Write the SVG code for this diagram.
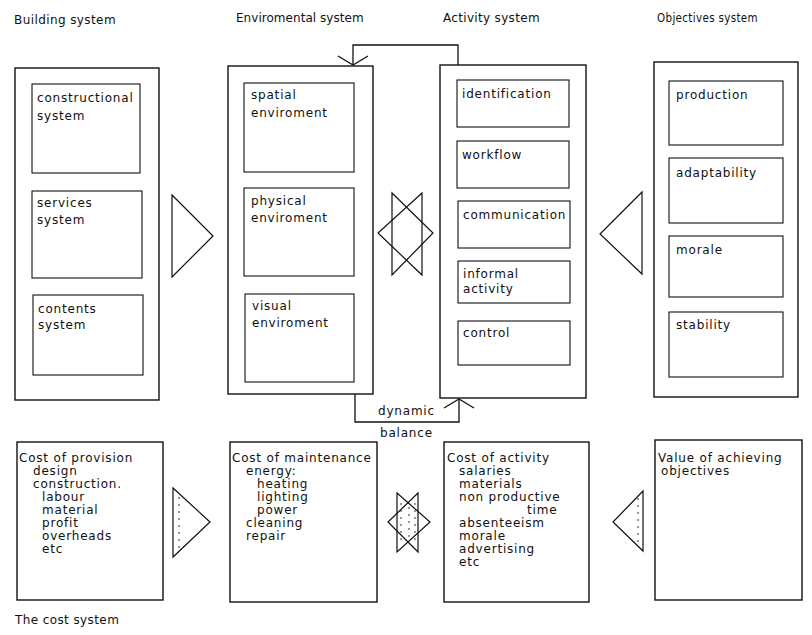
<svg xmlns="http://www.w3.org/2000/svg" width="812" height="635" viewBox="0 0 812 635">
<defs>
<style>
text{font-family:"DejaVu Sans","Liberation Sans",sans-serif;font-size:12px;fill:#111;letter-spacing:0.8px}
.title{letter-spacing:0.4px}
.outer{fill:none;stroke:#111;stroke-width:1.4}
.inner{fill:none;stroke:#111;stroke-width:1.1}
.tri{fill:none;stroke:#111;stroke-width:1.2;stroke-linejoin:miter}
.dots{fill:none;stroke:#333;stroke-width:1;stroke-dasharray:2 5}
.conn{fill:none;stroke:#111;stroke-width:1.3}
</style>
<marker id="openv" markerUnits="userSpaceOnUse" viewBox="-10 -16 12 32" refX="0" refY="0" markerWidth="12" markerHeight="32" orient="auto" overflow="visible">
<path d="M-9,-15 L0,0 L-9,15" fill="none" stroke="#111" stroke-width="1.3"/>
</marker>
</defs>
<rect width="812" height="635" fill="#fff"/>

<g id="titles">
<text class="title" x="14" y="24" textLength="102" lengthAdjust="spacing">Building  system</text>
<text class="title" x="236" y="22" textLength="128" lengthAdjust="spacing">Enviromental  system</text>
<text class="title" x="443" y="22" textLength="97" lengthAdjust="spacing">Activity system</text>
<text class="title" x="657" y="22" textLength="101" lengthAdjust="spacingAndGlyphs">Objectives system</text>
</g>

<g id="building-system">
<rect class="outer" x="15" y="68" width="144" height="332"/>
<g id="constructional-system"><rect class="inner" x="32" y="84" width="108" height="89"/>
<text x="37" y="102">constructional</text><text x="37" y="120">system</text></g>
<g id="services-system"><rect class="inner" x="32" y="191" width="110" height="87"/>
<text x="37" y="207">services</text><text x="37" y="224">system</text></g>
<g id="contents-system"><rect class="inner" x="33" y="295" width="110" height="80"/>
<text x="38" y="313">contents</text><text x="38" y="329">system</text></g>
</g>

<g id="environmental-system">
<rect class="outer" x="228" y="66" width="145" height="328"/>
<g id="spatial"><rect class="inner" x="244" y="83" width="110" height="89"/>
<text x="251" y="99">spatial</text><text x="251" y="117">enviroment</text></g>
<g id="physical"><rect class="inner" x="244" y="188" width="110" height="88"/>
<text x="251" y="205">physical</text><text x="251" y="222">enviroment</text></g>
<g id="visual"><rect class="inner" x="245" y="294" width="109" height="88"/>
<text x="252" y="310">visual</text><text x="252" y="327">enviroment</text></g>
</g>

<g id="activity-system">
<rect class="outer" x="440" y="65" width="146" height="333"/>
<g id="identification"><rect class="inner" x="457" y="80" width="112" height="47"/>
<text x="462" y="98">identification</text></g>
<g id="workflow"><rect class="inner" x="457" y="141" width="112" height="47"/>
<text x="462" y="159">workflow</text></g>
<g id="communication"><rect class="inner" x="458" y="201" width="112" height="47"/>
<text x="463" y="219">communication</text></g>
<g id="informal-activity"><rect class="inner" x="458" y="261" width="112" height="42"/>
<text x="463" y="278">informal</text><text x="463" y="293">activity</text></g>
<g id="control"><rect class="inner" x="458" y="321" width="112" height="44"/>
<text x="463" y="337">control</text></g>
</g>

<g id="objectives-system">
<rect class="outer" x="654" y="62" width="144" height="335"/>
<g id="production"><rect class="inner" x="669" y="81" width="114" height="64"/>
<text x="676" y="99">production</text></g>
<g id="adaptability"><rect class="inner" x="669" y="158" width="114" height="65"/>
<text x="676" y="177">adaptability</text></g>
<g id="morale"><rect class="inner" x="669" y="236" width="114" height="61"/>
<text x="676" y="254">morale</text></g>
<g id="stability"><rect class="inner" x="669" y="312" width="114" height="65"/>
<text x="676" y="329">stability</text></g>
</g>

<g id="cost-provision">
<rect class="outer" x="17" y="442" width="146" height="158"/>
<text x="19" y="462">Cost of provision</text>
<text x="33" y="475">design</text>
<text x="33" y="488">construction.</text>
<text x="42" y="501">labour</text>
<text x="42" y="514">material</text>
<text x="42" y="527">profit</text>
<text x="42" y="540">overheads</text>
<text x="42" y="553">etc</text>
</g>

<g id="cost-maintenance">
<rect class="outer" x="230" y="442" width="147" height="160"/>
<text x="232" y="462">Cost of maintenance</text>
<text x="246" y="475">energy:</text>
<text x="257" y="488">heating</text>
<text x="257" y="501">lighting</text>
<text x="257" y="514">power</text>
<text x="246" y="527">cleaning</text>
<text x="246" y="540">repair</text>
</g>

<g id="cost-activity">
<rect class="outer" x="444" y="442" width="145" height="160"/>
<text x="447" y="462">Cost of activity</text>
<text x="459" y="475">salaries</text>
<text x="459" y="488">materials</text>
<text x="459" y="501">non productive</text>
<text x="527" y="514">time</text>
<text x="459" y="527">absenteeism</text>
<text x="459" y="540">morale</text>
<text x="459" y="553">advertising</text>
<text x="459" y="566">etc</text>
</g>

<g id="value-objectives">
<rect class="outer" x="655" y="440" width="147" height="160"/>
<text x="658" y="462">Value of achieving</text>
<text x="661" y="475">objectives</text>
</g>

<g id="connectors">
<polygon class="tri" points="172,195 213,236 172,277"/>
<polygon class="tri" points="392,193 433,233 392,275"/>
<polygon class="tri" points="422,193 378,233 422,275"/>
<polygon class="tri" points="642,192 600,234 642,274"/>
<polygon class="tri" points="173,488 210,522 173,557"/>
<line class="dots" x1="179" y1="497" x2="179" y2="548"/>
<polygon class="tri" points="397,493 430,522 397,552"/>
<polygon class="tri" points="418,493 388,522 418,552"/>
<line class="dots" x1="401" y1="503" x2="401" y2="545"/>
<line class="dots" x1="409" y1="507" x2="409" y2="540"/>
<line class="dots" x1="415" y1="503" x2="415" y2="545"/>
<polygon class="tri" points="643,491 613,522 643,551"/>
<line class="dots" x1="638" y1="498" x2="638" y2="545"/>
<path class="conn" d="M458,65 V45 H353 V65" marker-end="url(#openv)"/>
<path class="conn" d="M355,394 V422 H459 V399" marker-end="url(#openv)"/>
<text x="378" y="415">dynamic</text>
<text x="380" y="437">balance</text>
</g>

<text x="15" y="624" class="title">The  cost system</text>
</svg>
